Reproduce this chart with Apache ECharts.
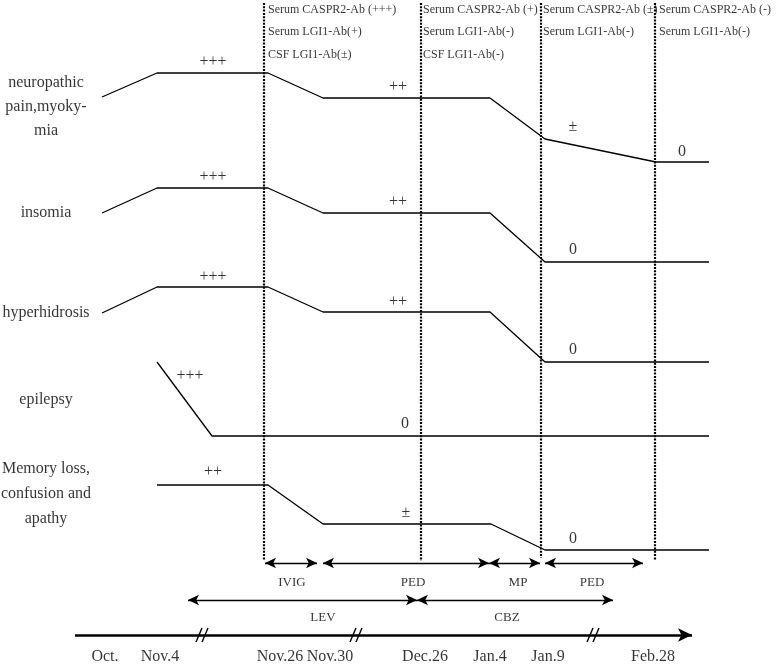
<!DOCTYPE html>
<html><head><meta charset="utf-8">
<script src="https://cdn.jsdelivr.net/npm/echarts@6/dist/echarts.min.js"></script>
<style>html,body{margin:0;padding:0;background:#fff}#c{width:778px;height:666px}</style>
</head><body><div id="c"></div>
<script>
// ---- data (diagram coordinates: x = timeline units, y = vertical units, inverted) ----
const dateLabels = ['Oct.', 'Nov.4', 'Nov.26', 'Nov.30', 'Dec.26', 'Jan.4', 'Jan.9', 'Feb.28'];
const datePos = [105, 160, 280, 330, 425, 490, 548, 653];

const symptomNames = [
  ['neuropathic', 'pain,myoky-', 'mia'],
  ['insomia'],
  ['hyperhidrosis'],
  ['epilepsy'],
  ['Memory loss,', 'confusion and', 'apathy']
];
const symptomNameY = [[83, 107, 131], [213], [313], [400], [469, 494, 519]];

const painCurve = [[102, 97], [157, 73], [268, 73], [323, 98], [490, 98], [545, 139], [656, 162], [709, 162]];
const insomiaCurve = [[102, 213], [157, 188], [268, 188], [323, 213], [490, 213], [545, 262], [709, 262]];
const hyperCurve = [[102, 313], [157, 287], [268, 287], [323, 312], [490, 312], [545, 362], [709, 362]];
const epilepsyCurve = [[157, 362], [212, 436], [709, 436]];
const memoryCurve = [[157, 485], [268, 485], [323, 524], [491, 524], [545, 550], [709, 550]];

const severity = [
  ['+++', 213, 62], ['++', 398, 87], ['±', 573, 127], ['0', 682, 152],
  ['+++', 213, 177], ['++', 398, 202], ['0', 573, 250],
  ['+++', 213, 277], ['++', 398, 302], ['0', 573, 350],
  ['+++', 190, 376], ['0', 405, 424],
  ['++', 213, 472], ['±', 406, 513], ['0', 573, 539]
];

const timePoints = [264, 421, 541, 655];
const timePointEnd = [560, 561, 558, 560];
const antibodyText = [
  ['Serum CASPR2-Ab (+++)', 'Serum LGI1-Ab(+)', 'CSF LGI1-Ab(±)'],
  ['Serum CASPR2-Ab (+)', 'Serum LGI1-Ab(-)', 'CSF LGI1-Ab(-)'],
  ['Serum CASPR2-Ab (±)', 'Serum LGI1-Ab(-)'],
  ['Serum CASPR2-Ab (-)', 'Serum LGI1-Ab(-)']
];
const antibodyX = [268, 423, 543, 659];
const antibodyY = [10, 32, 55];

// treatments: [name, start, end, row]
const treatments = [
  ['IVIG', 265, 317, 0], ['PED', 323, 489, 0], ['MP', 489, 540, 0], ['PED', 545, 643, 0],
  ['LEV', 188, 417, 1], ['CBZ', 417, 613, 1]
];
const treatmentLabelX = [292, 413, 518, 592, 323, 507];
const treatmentRowY = [563, 600];
const treatmentLabelY = [583, 618];

const axisStart = 75, axisEnd = 692, axisY = 635, dateY = 657;
const breakPos = [203, 357, 594];

// ---- build ----
const black = '#000';
const serif = 'Liberation Serif';
const series = [];

function curve(d) {
  series.push({
    type: 'line', data: d, symbol: 'none', silent: true,
    lineStyle: { color: black, width: 1.3 }
  });
}
[painCurve, insomiaCurve, hyperCurve, epilepsyCurve, memoryCurve].forEach(curve);

timePoints.forEach((x, i) => {
  series.push({
    type: 'line', data: [[x, 3], [x, timePointEnd[i]]], symbol: 'none', silent: true,
    lineStyle: { color: black, width: 2.2, type: [2, 1.3] }
  });
});

breakPos.forEach(x => {
  [-4, 2].forEach(o => {
    series.push({
      type: 'line', data: [[x + o - 3, axisY + 7], [x + o + 3, axisY - 7]], symbol: 'none', silent: true,
      lineStyle: { color: black, width: 1.4 }
    });
  });
});

function textSeries(items, size, align) {
  series.push({
    type: 'scatter', symbolSize: 0, silent: true,
    itemStyle: { color: 'rgba(0,0,0,0)' },
    data: items.map(t => ({ value: [t[1], t[2]], name: t[0] })),
    label: {
      show: true, formatter: '{b}', position: align === 'left' ? 'right' : 'inside', distance: 0,
      align: align === 'left' ? 'left' : 'center', verticalAlign: 'middle',
      color: black, fontFamily: serif, fontSize: size
    }
  });
}

const nameItems = [];
symptomNames.forEach((lines, i) => lines.forEach((t, j) => nameItems.push([t, 46, symptomNameY[i][j]])));
textSeries(nameItems, 16, 'center');
textSeries(severity, 16, 'center');

const abItems = [];
antibodyText.forEach((lines, i) => lines.forEach((t, j) => abItems.push([t, antibodyX[i], antibodyY[j]])));
textSeries(abItems, 12, 'left');

textSeries(treatments.map((t, i) => [t[0], treatmentLabelX[i], treatmentLabelY[t[3]]]), 13, 'center');
textSeries(dateLabels.map((t, i) => [t, datePos[i], dateY]), 16, 'center');

// arrows
series.push({
  type: 'scatter', data: [], silent: true,
  markLine: {
    silent: true, symbol: ['arrow', 'arrow'], symbolSize: [8, 11],
    label: { show: false }, animation: false,
    lineStyle: { color: black, type: 'solid', width: 1.4 },
    data: treatments.map(t => [{ coord: [t[1], treatmentRowY[t[3]]] }, { coord: [t[2], treatmentRowY[t[3]]] }])
  }
});
series.push({
  type: 'scatter', data: [], silent: true,
  markLine: {
    silent: true, symbol: ['none', 'arrow'], symbolSize: [10, 14],
    label: { show: false }, animation: false,
    lineStyle: { color: black, type: 'solid', width: 2.5 },
    data: [[{ coord: [axisStart, axisY] }, { coord: [axisEnd, axisY] }]]
  }
});

const chart = echarts.init(document.getElementById('c'), null, { renderer: 'canvas' });
chart.setOption({
  animation: false,
  backgroundColor: '#fff',
  grid: { left: 0, right: 0, top: 0, bottom: 0 },
  xAxis: { type: 'value', min: 0, max: 778, show: false },
  yAxis: { type: 'value', min: 0, max: 666, inverse: true, show: false },
  series: series
});
</script>
</body></html>
